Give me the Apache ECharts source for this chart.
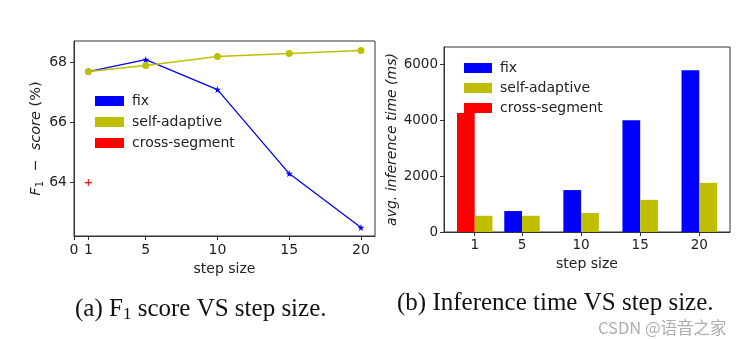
<!DOCTYPE html>
<html>
<head>
<meta charset="utf-8">
<script src="https://cdn.jsdelivr.net/npm/echarts@6/dist/echarts.min.js"></script>
<style>
  html, body { margin: 0; padding: 0; background: #fff; }
  #chart { width: 750px; height: 340px; }
</style>
</head>
<body>
<div id="chart"></div>
<script>
// ---- (a) F1 score vs step size ----
const stepSizes = [1, 5, 10, 15, 20];
const f1Fix = [67.7, 68.1, 67.1, 64.3, 62.5];
const f1SelfAdaptive = [67.7, 67.9, 68.2, 68.3, 68.4];
const f1CrossStep = [1];
const f1CrossSegment = [64.0];
const f1XTicks = [0, 1, 5, 10, 15, 20];
const f1YTicks = [64, 66, 68];

// ---- (b) inference time vs step size ----
const timeLabels = ['1', '5', '10', '15', '20'];
const timeSlots = [0.2, 1, 2, 3, 4];          // group centres on the bar axis
const timeFix = [null, 750, 1500, 4000, 5790];
const timeSelfAdaptive = [580, 580, 680, 1150, 1760];
const timeCrossSegment = [4260, null, null, null, null];
const timeYTicks = [0, 2000, 4000, 6000];

const BLUE = '#0000ff', OLIVE = '#bfbf00', RED = '#ff0000';
const INK = '#222';
const SANS = 'DejaVu Sans';
const BAR_W = 0.3;

const pairs = (xs, ys) => xs.map((x, i) => [x, ys[i]]).filter(p => p[1] != null);

const starPath = 'path://M50,0 L61,35 L98,35 L68,57 L79,91 L50,70 L21,91 L32,57 L2,35 L39,35 Z';
const plusPath = 'path://M8.5,0 H11.5 V8.5 H20 V11.5 H11.5 V20 H8.5 V11.5 H0 V8.5 H8.5 Z';

function barItem(offset) {
  return function (params, api) {
    const x = api.value(0), v = api.value(1);
    const a = api.coord([x + offset, v]);
    const b = api.coord([x + offset + BAR_W, 0]);
    return {
      type: 'rect',
      shape: { x: a[0], y: a[1], width: b[0] - a[0], height: b[1] - a[1] },
      style: api.style()
    };
  };
}

const axisLine = { show: true, onZero: false, lineStyle: { color: '#333', width: 1 } };
const axisTick = (vals) => ({ show: true, length: 4, lineStyle: { color: '#333' }, customValues: vals });
const labelStyle = (size) => ({ color: INK, fontFamily: SANS, fontSize: size });
const legendText = { color: INK, fontFamily: SANS, fontSize: 14, padding: [0, 0, 0, 3] };
const legendData = [
  { name: 'fix', itemStyle: { color: BLUE, opacity: 1 } },
  { name: 'self-adaptive', itemStyle: { color: OLIVE, opacity: 1 } },
  { name: 'cross-segment', itemStyle: { color: RED, opacity: 1 } }
];

const chart = echarts.init(document.getElementById('chart'), null, { renderer: 'canvas' });

chart.setOption({
  animation: false,
  backgroundColor: '#fff',
  grid: [
    { left: 74, top: 41, width: 301, height: 195, show: true, borderColor: '#333', borderWidth: 1 },
    { left: 444, top: 47, width: 286, height: 185, show: true, borderColor: '#333', borderWidth: 1 }
  ],
  xAxis: [
    {
      gridIndex: 0, type: 'value', min: 0, max: 20.98,
      axisLine, axisTick: axisTick(f1XTicks), splitLine: { show: false },
      axisLabel: Object.assign({ margin: 7, customValues: f1XTicks }, labelStyle(14)),
      name: 'step size', nameLocation: 'middle', nameGap: 21,
      nameTextStyle: { color: INK, fontFamily: SANS, fontSize: 14 }
    },
    {
      gridIndex: 1, type: 'value', min: -0.32, max: 4.52,
      axisLine, axisTick: axisTick(timeSlots), splitLine: { show: false },
      axisLabel: Object.assign({
        margin: 6, customValues: timeSlots,
        formatter: (v) => {
          const i = timeSlots.findIndex(s => Math.abs(s - v) < 1e-6);
          return i >= 0 ? timeLabels[i] : '';
        }
      }, labelStyle(13.5)),
      name: 'step size', nameLocation: 'middle', nameGap: 20,
      nameTextStyle: { color: INK, fontFamily: SANS, fontSize: 14 }
    }
  ],
  yAxis: [
    {
      gridIndex: 0, type: 'value', min: 62.22, max: 68.72,
      axisLine, axisTick: axisTick(f1YTicks), splitLine: { show: false },
      axisLabel: Object.assign({ margin: 7, customValues: f1YTicks, formatter: (v) => String(v) }, labelStyle(14)),
      name: '{i|F}{s|1}{n|  −  }{i|score}{n| (%)}', nameLocation: 'middle', nameRotate: 90, nameGap: 29,
      nameTextStyle: {
        color: INK, fontFamily: SANS, fontSize: 14,
        rich: {
          i: { fontFamily: SANS, fontStyle: 'italic', fontSize: 14.5, color: INK, lineHeight: 18 },
          n: { fontFamily: SANS, fontSize: 14.5, color: INK, lineHeight: 18 },
          s: { fontFamily: SANS, fontSize: 10, color: INK, lineHeight: 18, verticalAlign: 'bottom' }
        }
      }
    },
    {
      gridIndex: 1, type: 'value', min: 0, max: 6620,
      axisLine, axisTick: axisTick(timeYTicks), splitLine: { show: false },
      axisLabel: Object.assign({ margin: 6, customValues: timeYTicks, formatter: (v) => String(v) }, labelStyle(13.5)),
      name: 'avg. inference time (ms)', nameLocation: 'middle', nameRotate: 90, nameGap: 44,
      nameTextStyle: { color: INK, fontFamily: SANS, fontSize: 14, fontStyle: 'italic' }
    }
  ],
  legend: [
    {
      left: 90, top: 89, orient: 'vertical', icon: 'rect', itemWidth: 29, itemHeight: 10, itemGap: 7,
      selectedMode: false, textStyle: legendText, data: legendData
    },
    {
      left: 459, top: 56, orient: 'vertical', icon: 'rect', itemWidth: 28, itemHeight: 10, itemGap: 6,
      selectedMode: false, textStyle: legendText, data: legendData
    }
  ],
  series: [
    {
      name: 'fix', type: 'line', xAxisIndex: 0, yAxisIndex: 0,
      data: pairs(stepSizes, f1Fix),
      color: BLUE, lineStyle: { color: BLUE, width: 1.3 },
      symbol: starPath, symbolSize: 7, itemStyle: { color: BLUE }
    },
    {
      name: 'self-adaptive', type: 'line', xAxisIndex: 0, yAxisIndex: 0,
      data: pairs(stepSizes, f1SelfAdaptive),
      color: OLIVE, lineStyle: { color: OLIVE, width: 1.5 },
      symbol: 'circle', symbolSize: 7, itemStyle: { color: OLIVE }
    },
    {
      name: 'cross-segment', type: 'scatter', xAxisIndex: 0, yAxisIndex: 0,
      data: pairs(f1CrossStep, f1CrossSegment),
      color: RED, symbol: plusPath, symbolSize: 7, itemStyle: { color: RED, opacity: 1 }
    },
    {
      name: 'fix', type: 'custom', xAxisIndex: 1, yAxisIndex: 1,
      data: pairs(timeSlots, timeFix), encode: { x: 0, y: 1 },
      renderItem: barItem(-BAR_W), itemStyle: { color: BLUE }, color: BLUE
    },
    {
      name: 'cross-segment', type: 'custom', xAxisIndex: 1, yAxisIndex: 1,
      data: pairs(timeSlots, timeCrossSegment), encode: { x: 0, y: 1 },
      renderItem: barItem(-BAR_W), itemStyle: { color: RED }, color: RED
    },
    {
      name: 'self-adaptive', type: 'custom', xAxisIndex: 1, yAxisIndex: 1,
      data: pairs(timeSlots, timeSelfAdaptive), encode: { x: 0, y: 1 },
      renderItem: barItem(0), itemStyle: { color: OLIVE }, color: OLIVE
    }
  ],
  graphic: [
    {
      type: 'text', left: 75, top: 297,
      style: {
        text: '{m|(a) F}{s|1}{m| score VS step size.}',
        fill: '#111',
        rich: {
          m: { fontFamily: 'Liberation Serif', fontSize: 25, lineHeight: 28, fill: '#111' },
          s: { fontFamily: 'Liberation Serif', fontSize: 17, lineHeight: 28, verticalAlign: 'bottom', fill: '#111' }
        }
      }
    },
    {
      type: 'text', left: 397, top: 291,
      style: { text: '(b) Inference time VS step size.', fontFamily: 'Liberation Serif', fontSize: 25, fill: '#111' }
    },
    {
      type: 'text', left: 598, top: 319,
      style: { text: 'CSDN @语音之家', fontFamily: 'Noto Sans CJK SC', fontSize: 16.5, fill: 'rgba(160,160,160,0.85)' }
    }
  ]
});
</script>
</body>
</html>
